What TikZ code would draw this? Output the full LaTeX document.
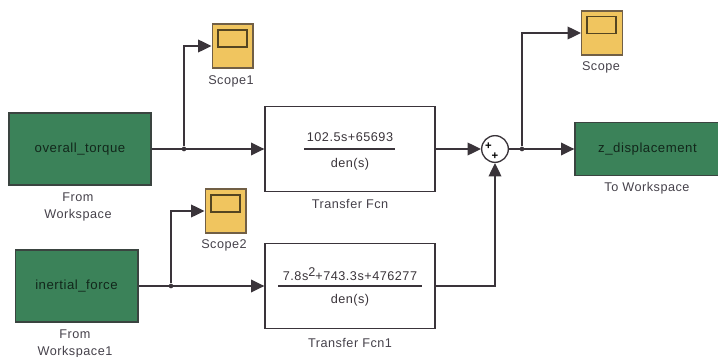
\documentclass[tikz,border=0pt]{standalone}
\usepackage{fontspec}
\setmainfont[LetterSpace=4]{Liberation Sans}
\usetikzlibrary{arrows.meta}
\definecolor{wsgreen}{HTML}{3B8259}
\definecolor{scopeyellow}{HTML}{F0C55F}
\definecolor{wireblack}{HTML}{3A343A}
\definecolor{labelgray}{HTML}{45414A}
\tikzset{
  wire/.style={draw=wireblack,line width=1pt},
  arrowwire/.style={wire,-{Triangle[length=10pt,width=9.5pt]}},
  wsbox/.style={draw=wireblack!80!wsgreen,line width=1pt,fill=wsgreen,text=black!70!wsgreen,inner sep=0pt,font=\fontsize{9.9}{11}\selectfont},
  tfbox/.style={draw=wireblack,line width=1pt,fill=white,inner sep=0pt,minimum width=127.5pt,minimum height=63.5pt},
  scopebox/.style={draw=wireblack!70!scopeyellow,line width=1pt,fill=scopeyellow,inner sep=0pt,minimum width=30.5pt,minimum height=33pt},
  screen/.style={draw=black!65!scopeyellow,line width=1.2pt,inner sep=0pt,minimum width=22pt,minimum height=12.5pt},
  caption/.style={text=labelgray,inner sep=0pt,font=\fontsize{9.5}{11}\selectfont},
  tftext/.style={text=wireblack,inner sep=0pt,font=\fontsize{9.5}{11}\selectfont},
  dotnode/.style={circle,fill=wireblack,inner sep=0pt,minimum size=3.5pt},
  sumnode/.style={circle,draw=wireblack,line width=1pt,fill=white,inner sep=0pt,minimum size=20pt},
  plusnode/.style={text=black,inner sep=0pt,font=\fontsize{8.5}{8}\bfseries}
}
\begin{document}
\begin{tikzpicture}[x=0.75pt,y=-0.75pt]
\useasboundingbox (0,0) rectangle (718,357);
% source blocks
\node[wsbox,minimum width=106.5pt,minimum height=54pt] (torque) at (80,149) {overall\_torque};
\node[caption] (torquefrom) at (78,197) {From};
\node[caption] (torquews) at (78,215.5) {Workspace};
\node[wsbox,minimum width=92pt,minimum height=54pt] (force) at (76.5,286) {inertial\_force};
\node[caption] (forcefrom) at (75,334) {From};
\node[caption] (forcews) at (75,352.5) {Workspace1};
% transfer functions
\node[tfbox] (tfa) at (350,149) {};
\node[tftext] (tfanum) at (350,137.5) {102.5s+65693};
\node[tftext] (tfaden) at (350,164) {den(s)};
\draw[wire] (304,149) -- (395,149);
\node[caption] (tfalabel) at (350,203.5) {Transfer Fcn};
\node[tfbox] (tfb) at (350,286) {};
\node[tftext] (tfbnum) at (350,274) {7.8s\raisebox{3pt}{2}+743.3s+476277};
\node[tftext] (tfbden) at (350,300) {den(s)};
\draw[wire] (278,286) -- (422,286);
\node[caption] (tfblabel) at (350,342.5) {Transfer Fcn1};
% scopes
\node[scopebox] (scopea) at (232.5,46) {};
\node[screen] (screena) at (232.5,38.5) {};
\node[caption] (scopealabel) at (231,81) {Scope1};
\node[scopebox] (scopeb) at (225.5,211) {};
\node[screen] (screenb) at (225.5,203.5) {};
\node[caption] (scopeblabel) at (224,245) {Scope2};
\node[scopebox] (scopec) at (602,33) {};
\node[screen] (screenc) at (601.5,25) {};
\node[caption] (scopeclabel) at (601,67) {Scope};
% sum and sink
\node[sumnode] (sum) at (495,149) {};
\node[plusnode] (plusa) at (488.5,146.5) {+};
\node[plusnode] (plusb) at (495,156) {+};
\node[wsbox,minimum width=108.75pt,minimum height=40pt] (sink) at (647.5,149) {z\_displacement};
\node[caption] (sinklabel) at (647,188) {To Workspace};
% junctions
\node[dotnode] (dota) at (184,149) {};
\node[dotnode] (dotb) at (171,286) {};
\node[dotnode] (dotc) at (522,149) {};
% wires
\draw[arrowwire] (torque.east) -- (tfa.west);
\draw[arrowwire] (dota) |- (scopea.west);
\draw[arrowwire] (force.east) -- (tfb.west);
\draw[arrowwire] (dotb) |- (scopeb.west);
\draw[arrowwire] (tfa.east) -- (sum.west);
\draw[arrowwire] (tfb.east) -| (sum.south);
\draw[arrowwire] (sum.east) -- (sink.west);
\draw[arrowwire] (dotc) |- (scopec.west);
\end{tikzpicture}
\end{document}
